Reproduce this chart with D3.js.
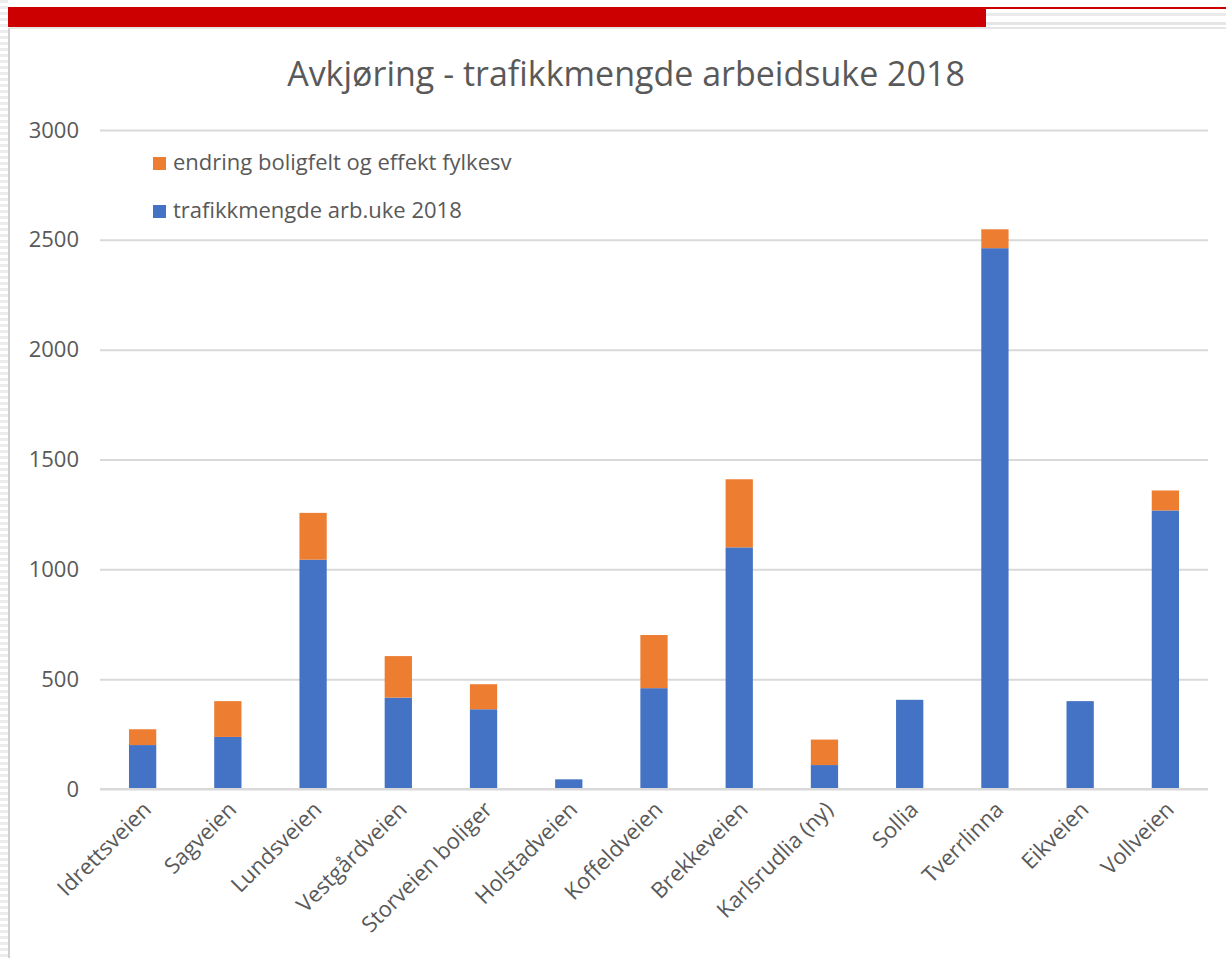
<!DOCTYPE html>
<html><head><meta charset="utf-8">
<script src="https://cdn.jsdelivr.net/npm/d3@7"></script>
<style>body{margin:0;background:#fff}svg{display:block}</style>
</head><body>
<svg id="c" width="1226" height="958"></svg>
<script>
const categories = ["Idrettsveien","Sagveien","Lundsveien","Vestgårdveien","Storveien boliger","Holstadveien","Koffeldveien","Brekkeveien","Karlsrudlia (ny)","Sollia","Tverrlinna","Eikveien","Vollveien"];
const trafikk2018 = [200,237,1044,416,363,44,459,1100,109,406,2462,400,1268];
const endring = [72,163,213,189,114,0,242,310,116,0,86,0,91];
const seriesNames = ["trafikkmengde arb.uke 2018","endring boligfelt og effekt fylkesv"];
const yTicks = [0,500,1000,1500,2000,2500,3000];
const title = "Avkjøring - trafikkmengde arbeidsuke 2018";

(function(){
const svg = d3.select("#c");
const FONT = "'Open Sans', sans-serif";
const TXT = "#595959";

// page decorations (left striped margin, top red banner)
const deco = svg.append("g");
for (let yy = 0; yy < 958; yy += 6) deco.append("rect").attr("x",0).attr("y",yy).attr("width",8).attr("height",3).attr("fill","#ececec");
deco.append("line").attr("x1",9).attr("x2",9).attr("y1",28).attr("y2",958).attr("stroke","#d0d0d0").attr("stroke-width",2);
deco.append("rect").attr("x",985).attr("y",7).attr("width",241).attr("height",2).attr("fill","#cc0000");
deco.append("rect").attr("x",985).attr("y",13).attr("width",241).attr("height",3).attr("fill","#ebebeb");
deco.append("rect").attr("x",985).attr("y",22).attr("width",241).attr("height",3).attr("fill","#e6e6e6");
deco.append("rect").attr("x",8).attr("y",7).attr("width",978).attr("height",20).attr("fill","#cc0000");
deco.append("line").attr("x1",9).attr("x2",1226).attr("y1",28).attr("y2",28).attr("stroke","#dcdcdc").attr("stroke-width",1.5);

const pl = 100, pr = 1208, pt = 130, pb = 789;
const x = d3.scaleBand().domain(categories).range([pl, pr]).paddingInner(0.68).paddingOuter(0.34);
const y = d3.scaleLinear().domain([0,3000]).range([pb, pt]);

// gridlines
const yAxis = d3.axisLeft(y).tickValues(yTicks).tickFormat(d3.format("d")).tickSize(-(pr-pl)).tickPadding(21);
const gy = svg.append("g").attr("transform",`translate(${pl},0)`).call(yAxis);
gy.select(".domain").remove();
gy.selectAll(".tick line").attr("stroke","#d9d9d9").attr("stroke-width",2);
gy.selectAll(".tick text").attr("fill",TXT).style("font-family",FONT).style("font-size","22px");

// stacked bars
const data = categories.map((c,i)=>({cat:c, t:trafikk2018[i], e:endring[i]}));
const stack = d3.stack().keys(["t","e"])(data);
const colors = {t:"#4472c4", e:"#ed7d31"};
stack.forEach(layer=>{
  svg.append("g").attr("fill",colors[layer.key]).selectAll("rect").data(layer).join("rect")
    .attr("x",d=>x(d.data.cat)).attr("width",x.bandwidth())
    .attr("y",d=>y(d[1])).attr("height",d=>Math.max(0,y(d[0])-y(d[1])));
});

// x axis
const gx = svg.append("g").attr("transform",`translate(0,${pb})`).call(d3.axisBottom(x).tickSize(0).tickPadding(0));
gx.select(".domain").attr("stroke","#d9d9d9").attr("stroke-width",2).attr("d",`M${pl},0H${pr}`);
gx.selectAll(".tick text").attr("fill",TXT).style("font-family",FONT).style("font-size","22px")
  .attr("text-anchor","end").attr("dy",0).attr("y",0).attr("transform","translate(10,22) rotate(-45)");

// title
svg.append("text").attr("x",626).attr("y",86).attr("text-anchor","middle").attr("fill",TXT)
  .style("font-family",FONT).style("font-size","34px").text(title);

// legend
const legend = [{name:seriesNames[1], c:colors.e, y:157},{name:seriesNames[0], c:colors.t, y:205}];
const lg = svg.append("g");
legend.forEach(l=>{
  lg.append("rect").attr("x",153).attr("y",l.y).attr("width",13).attr("height",13).attr("fill",l.c);
  lg.append("text").attr("x",173).attr("y",l.y+13).attr("fill",TXT).style("font-family",FONT).style("font-size","22px").text(l.name);
});
})();
</script>
</body></html>
